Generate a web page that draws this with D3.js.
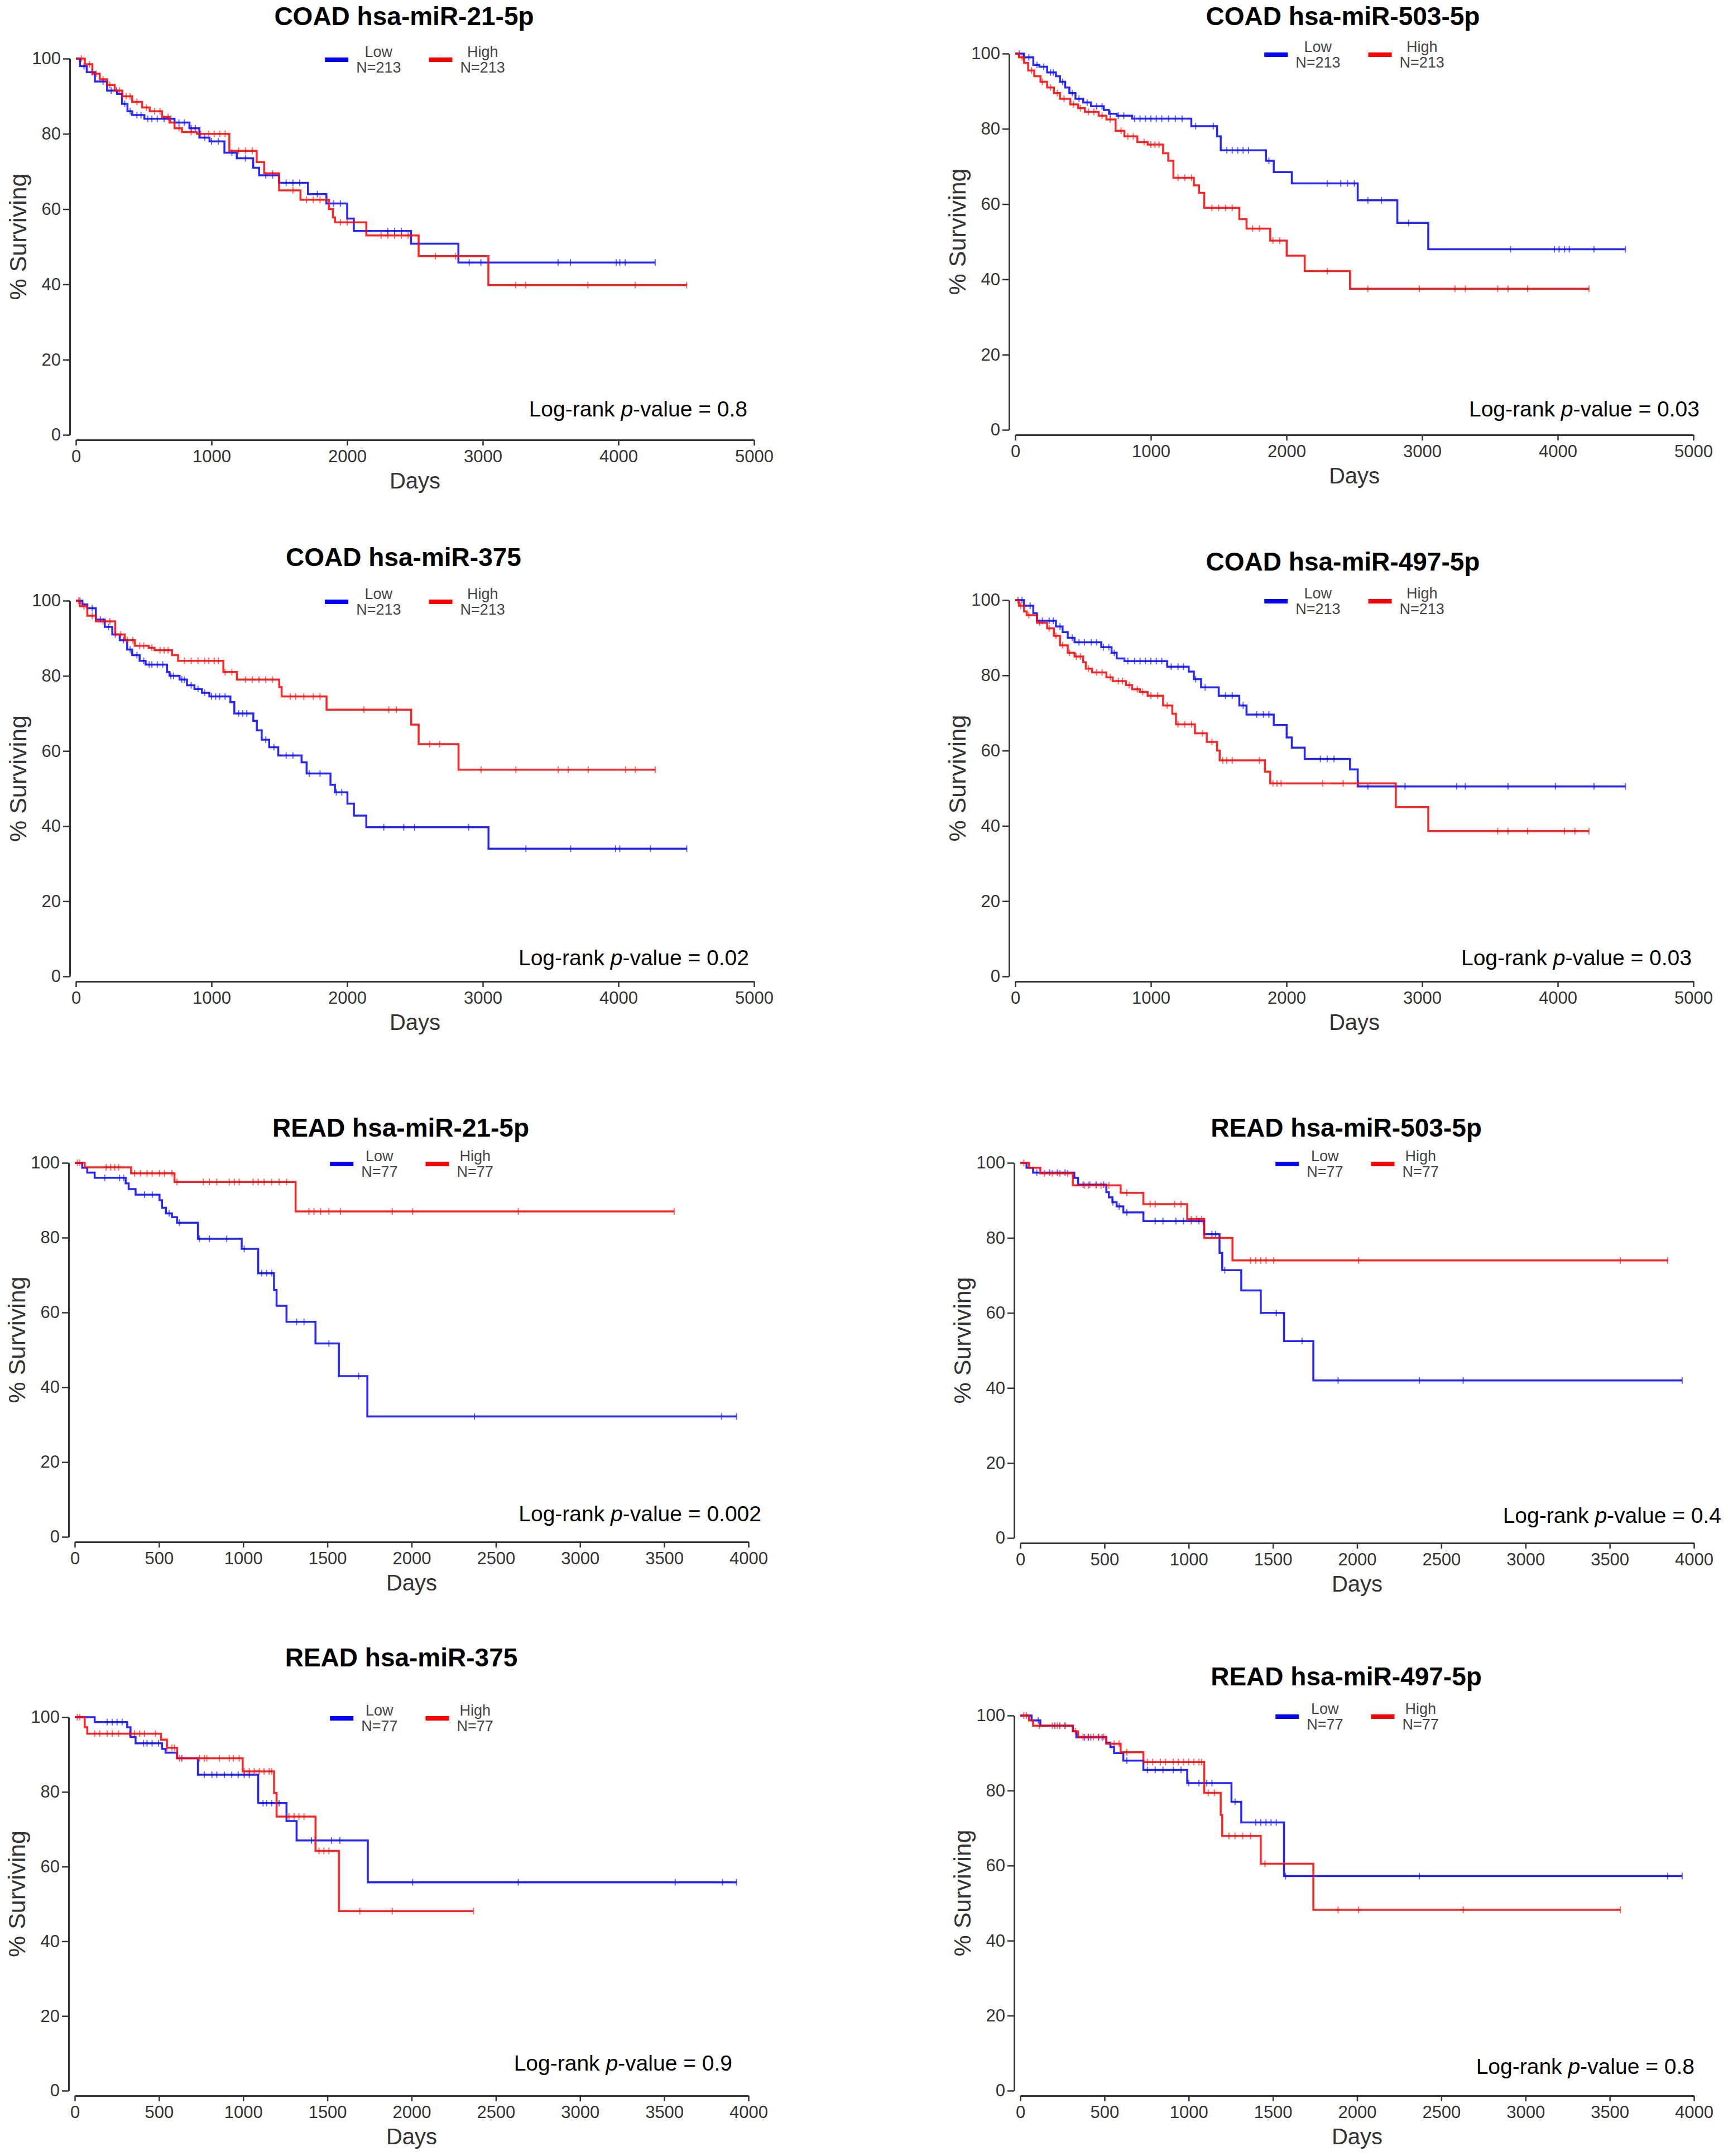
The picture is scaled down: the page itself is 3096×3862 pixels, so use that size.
<!DOCTYPE html>
<html>
<head>
<meta charset="utf-8">
<script src="https://cdn.jsdelivr.net/npm/d3@7"></script>
<style>
  body { margin: 0; background: #fff; }
  text { font-family: "Liberation Sans", Arial, sans-serif; }
</style>
</head>
<body>
<svg id="chart" width="3096" height="3862"></svg>
<script>
"use strict"

// ======================================================================
// data: [day, % surviving] at each step, censor days
// (last censor day is where the curve ends)
const groups = ["Low", "High"];
const coadN = 213;
const readN = 77;
const coadDayTicks = [0, 1000, 2000, 3000, 4000, 5000];
const readDayTicks = [0, 500, 1000, 1500, 2000, 2500, 3000, 3500, 4000];
const survTicks = [0, 20, 40, 60, 80, 100];

// COAD hsa-miR-21-5p
const coad21Low = [[0,100],[30,98],[80,96.4],[140,93.9],[230,91.5],[305,90.6],[340,88],[380,86],[415,85],[505,84],[727,83],[837,81.5],[910,79],[985,78],[1095,75],[1186,73.5],[1307,71],[1351,69],[1498,67],[1711,64],[1847,61.5],[2000,57.5],[2049,54.2],[2471,50.8],[2820,45.8]];
const coad21LowCens = [60,120,200,260,300,360,400,450,480,530,560,600,650,700,760,800,850,880,950,1000,1050,1150,1250,1400,1450,1550,1600,1650,1780,1900,1950,2300,2350,2400,2900,2986,3555,3646,3984,4010,4050,4271];
const coad21High = [[0,100],[66,98.5],[121,96],[176,94.5],[231,93],[286,91.5],[342,90],[415,88.5],[488,87],[544,86],[635,84.5],[690,83],[727,81.5],[782,80.5],[892,80],[1131,75.5],[1333,72.5],[1388,69.5],[1498,65],[1656,62.5],[1865,60],[1895,57.8],[1910,56.5],[2141,53],[2527,47.5],[3041,39.8]];
const coad21HighCens = [40,100,150,200,250,320,370,400,450,520,580,620,680,760,850,920,980,1020,1060,1100,1200,1250,1300,1450,1600,1700,1750,1800,1950,2000,2250,2300,2350,2400,2450,2650,2800,3243,3316,3775,4124,4503];

// COAD hsa-miR-503-5p
const coad503Low = [[0,100],[65,99],[133,97],[178,96.5],[235,95],[300,94],[330,92.5],[368,91],[399,89.5],[444,88],[501,87],[558,86],[653,85],[691,84],[748,83.5],[862,82.7],[1298,80.7],[1488,78],[1515,74.3],[1849,71.5],[1906,68.5],[2039,65.5],[2525,61],[2817,55],[3045,48]];
const coad503LowCens = [30,100,160,210,260,280,350,420,470,530,600,640,700,760,800,880,920,960,1000,1040,1080,1130,1180,1230,1330,1460,1560,1600,1640,1680,1720,1870,2300,2400,2450,2500,2600,2700,2900,3652,3975,4010,4050,4085,4267,4499];
const coad503High = [[0,100],[27,99],[65,97.5],[95,95.5],[140,94],[186,92.5],[235,91],[285,89.5],[330,88],[406,86.5],[463,85.5],[513,84.5],[615,83.5],[672,82.5],[740,79.5],[805,78],[900,76.5],[976,75.8],[1090,73.5],[1128,71.5],[1166,67],[1317,65],[1355,63],[1393,59],[1652,56],[1705,53.5],[1880,50.3],[2001,46.3],[2134,42.2],[2468,37.5]];
const coad503HighCens = [50,120,200,260,310,360,430,480,540,580,640,700,780,830,870,950,1000,1030,1060,1200,1250,1300,1450,1500,1550,1600,1750,1800,1900,1950,2300,2600,2980,3242,3318,3557,3633,3777,4230];

// COAD hsa-miR-375
const coad375Low = [[0,100],[48,99],[84,98],[147,95],[213,93],[268,91],[323,89.5],[378,87],[415,85.5],[470,84],[514,83],[672,81],[690,80],[764,79],[819,77.5],[874,76.5],[929,75.5],[984,74.5],[1139,73],[1168,70],[1308,68],[1334,65.5],[1370,63],[1425,61],[1492,58.8],[1664,57],[1701,54],[1877,51],[1910,49],[2002,46],[2050,42.8],[2141,39.7],[3042,34]];
const coad375LowCens = [30,120,180,240,290,350,400,450,500,540,560,600,640,700,720,780,800,850,900,950,1000,1030,1060,1100,1200,1230,1260,1400,1460,1550,1600,1720,1800,1920,1960,2270,2417,2498,2895,3318,3648,3979,4010,4236,4504];
const coad375High = [[0,100],[29,98.5],[84,96],[147,94.5],[290,91],[360,89.5],[433,88],[536,87.5],[580,86.8],[709,85.5],[753,84],[1087,81],[1187,79],[1499,77],[1517,74.5],[1848,71],[2472,67],[2527,61.8],[2821,55]];
const coad375HighCens = [20,60,120,200,250,330,380,420,470,500,560,620,650,680,800,850,900,950,980,1020,1050,1100,1150,1250,1300,1350,1400,1450,1580,1620,1680,1750,1800,2124,2307,2362,2608,2682,2987,3244,3556,3630,3777,4052,4125,4271];

// COAD hsa-miR-497-5p
const coad497Low = [[0,100],[65,98.5],[133,96.5],[160,94.5],[300,93],[349,91.5],[387,90],[437,88.8],[634,87.5],[710,86],[748,84.5],[805,83.8],[1120,82.3],[1279,81],[1317,79],[1370,76.8],[1500,74.6],[1652,72],[1705,69.6],[1906,66.8],[2001,63.5],[2039,60.8],[2134,57.8],[2468,55],[2525,50.5]];
const coad497LowCens = [20,50,110,200,250,280,330,420,470,510,560,600,650,690,730,830,880,920,960,1000,1040,1080,1150,1200,1240,1330,1400,1550,1600,1680,1780,1830,1870,2250,2300,2350,2600,2874,3254,3318,3633,3983,4267,4499];
const coad497High = [[0,100],[27,98.5],[65,97],[84,96],[160,94],[235,92.5],[285,90.5],[330,88],[387,86],[437,85],[501,83.5],[520,81.8],[566,80.8],[672,79.5],[718,78.5],[816,77.4],[862,76.3],[919,75.6],[976,74.6],[1090,72],[1158,69.8],[1185,67],[1325,64.6],[1412,62.3],[1488,60],[1507,57.4],[1841,54.4],[1880,51.3],[2806,45],[3045,38.6]];
const coad497HighCens = [40,100,180,250,300,350,400,450,480,540,600,640,700,760,790,840,900,940,1000,1050,1120,1200,1250,1300,1380,1450,1530,1560,1600,1800,1900,1930,1960,2266,2418,2532,3557,3633,3777,4050,4126,4230];

// READ hsa-miR-21-5p
const read21Low = [[0,100],[44,98.7],[74,97.4],[118,96],[302,94.5],[320,93],[361,91.5],[503,90],[518,88],[541,86.5],[577,85.5],[607,84],[731,79.7],[991,77],[1089,70.5],[1183,66],[1198,61.8],[1257,57.5],[1429,51.7],[1568,43],[1737,32.2]];
const read21LowCens = [178,266,290,414,460,560,620,740,799,902,1006,1110,1139,1170,1317,1361,1509,1686,2373,3840,3929];
const read21High = [[0,100],[59,98.8],[334,97.2],[592,94.9],[1311,87]];
const read21HighCens = [15,30,186,213,237,260,355,390,429,459,503,533,577,607,763,799,843,917,947,976,1059,1089,1124,1169,1213,1257,1390,1420,1459,1509,1577,1885,2006,2633,3559];

// READ hsa-miR-503-5p
const read503Low = [[0,100],[37,98.7],[76,97.4],[321,96],[343,94.2],[511,92.2],[526,90.8],[547,89.5],[572,88.4],[612,86.8],[731,84.5],[1092,81],[1183,76],[1199,71.4],[1312,66],[1428,60],[1566,52.5],[1740,42]];
const read503LowCens = [98,174,220,266,373,413,450,495,550,587,633,801,847,924,969,1015,1061,1086,1138,1159,1214,1520,1673,1887,2370,2630,3930];
const read503High = [[0,100],[52,98.7],[119,97.2],[312,94],[596,92],[731,89],[991,85],[1092,80],[1260,74]];
const read503HighCens = [21,144,190,235,281,382,404,450,480,526,633,771,801,917,954,1015,1046,1076,1367,1398,1428,1459,1505,2009,3563,3844];

// READ hsa-miR-375
const read375Low = [[0,100],[118,98.7],[311,97.3],[331,94.7],[361,93],[518,91.5],[539,90.5],[607,89],[731,84.6],[1089,77],[1257,72.2],[1317,67],[1740,55.8]];
const read375LowCens = [192,222,251,281,408,429,459,497,636,769,814,843,888,932,970,1006,1036,1118,1139,1169,1213,1405,1524,1574,2006,2633,3565,3846,3929];
const read375High = [[0,100],[59,97.3],[74,95.6],[512,94],[547,91.8],[607,89],[997,85.5],[1183,79.7],[1198,73.4],[1429,64.2],[1568,48.1]];
const read375HighCens = [15,30,118,148,192,222,260,325,355,385,414,479,547,577,592,621,740,769,784,858,917,941,976,1006,1036,1065,1095,1124,1154,1169,1272,1302,1331,1361,1450,1479,1509,1692,1885,2367];

// READ hsa-miR-497-5p
const read497Low = [[0,100],[67,98.7],[119,97.3],[312,95.8],[333,94.2],[511,92.8],[535,91.6],[557,90],[612,88],[731,85.5],[991,82],[1254,77],[1312,71.5],[1566,57.2]];
const read497LowCens = [107,205,235,266,382,404,419,465,486,633,755,801,847,908,954,1000,1061,1107,1138,1275,1398,1428,1459,1489,1520,1575,2370,3844,3930];
const read497High = [[0,100],[52,98.7],[76,97.3],[312,95.8],[343,94.3],[511,92.5],[596,90.2],[731,87.6],[1092,79.4],[1190,73.5],[1199,67.9],[1428,60.5],[1740,48.2]];
const read497HighCens = [21,37,113,190,220,266,327,373,404,434,465,495,557,587,633,755,786,832,862,908,939,969,1000,1031,1061,1076,1116,1153,1239,1275,1321,1367,1453,1887,2009,2630,3563];

const panelTitles = ["COAD hsa-miR-21-5p","COAD hsa-miR-503-5p","COAD hsa-miR-375","COAD hsa-miR-497-5p",
                     "READ hsa-miR-21-5p","READ hsa-miR-503-5p","READ hsa-miR-375","READ hsa-miR-497-5p"];
const pValues = ["0.8","0.03","0.02","0.03","0.002","0.4","0.9","0.8"];

// ======================================================================
// panels, built from the arrays above
const panels = [
  {low: coad21Low,  lowC: coad21LowCens,  high: coad21High,  highC: coad21HighCens,  n: coadN, xMax: 5000, xTicks: coadDayTicks},
  {low: coad503Low, lowC: coad503LowCens, high: coad503High, highC: coad503HighCens, n: coadN, xMax: 5000, xTicks: coadDayTicks},
  {low: coad375Low, lowC: coad375LowCens, high: coad375High, highC: coad375HighCens, n: coadN, xMax: 5000, xTicks: coadDayTicks},
  {low: coad497Low, lowC: coad497LowCens, high: coad497High, highC: coad497HighCens, n: coadN, xMax: 5000, xTicks: coadDayTicks},
  {low: read21Low,  lowC: read21LowCens,  high: read21High,  highC: read21HighCens,  n: readN, xMax: 4000, xTicks: readDayTicks},
  {low: read503Low, lowC: read503LowCens, high: read503High, highC: read503HighCens, n: readN, xMax: 4000, xTicks: readDayTicks},
  {low: read375Low, lowC: read375LowCens, high: read375High, highC: read375HighCens, n: readN, xMax: 4000, xTicks: readDayTicks},
  {low: read497Low, lowC: read497LowCens, high: read497High, highC: read497HighCens, n: readN, xMax: 4000, xTicks: readDayTicks}
];

// where each panel sits on the page (plot box, title baseline, p-value anchor)
const layout = [
  {x0: 136,  x1: 1351, yTop: 105,  yBot: 779,  tx: 724,  ty: 45,   px: 1339, py: 746},
  {x0: 1819, x1: 3034, yTop: 96,   yBot: 770,  tx: 2406, ty: 45,   px: 3045, py: 746},
  {x0: 136,  x1: 1351, yTop: 1076, yBot: 1749, tx: 723,  ty: 1014, px: 1342, py: 1729},
  {x0: 1819, x1: 3034, yTop: 1075, yBot: 1749, tx: 2406, ty: 1022, px: 3031, py: 1729},
  {x0: 134,  x1: 1341, yTop: 2083, yBot: 2753, tx: 718,  ty: 2036, px: 1364, py: 2725},
  {x0: 1828, x1: 3035, yTop: 2083, yBot: 2755, tx: 2412, ty: 2036, px: 3084, py: 2728},
  {x0: 134,  x1: 1341, yTop: 3076, yBot: 3745, tx: 719,  ty: 2985, px: 1312, py: 3709},
  {x0: 1828, x1: 3035, yTop: 3073, yBot: 3745, tx: 2412, ty: 3019, px: 3036, py: 3715}
];

const lowColor = "#0000ff";
const highColor = "#ff0000";
const axisColor = "#333";

const svg = d3.select("#chart");
svg.append("rect").attr("width", 3096).attr("height", 3862).attr("fill", "#fff");

// survival value of a step curve at day t
function survAt(steps, t) {
  let s = steps[0][1];
  for (const [tt, ss] of steps) {
    if (tt <= t) s = ss; else break;
  }
  return s;
}

function drawPanel(p, L, i) {
  const x = d3.scaleLinear().domain([0, p.xMax]).range([L.x0, L.x1]);
  const y = d3.scaleLinear().domain([0, 100]).range([L.yBot, L.yTop]);
  const g = svg.append("g");

  // title
  g.append("text")
    .attr("x", L.tx).attr("y", L.ty)
    .attr("text-anchor", "middle")
    .attr("font-size", 46).attr("font-weight", "bold")
    .attr("fill", "#000")
    .text(panelTitles[i]);

  // axes, pulled off the plot box a little like the original
  const xAxis = g.append("g")
    .attr("transform", `translate(0,${L.yBot + 9})`)
    .call(d3.axisBottom(x).tickValues(p.xTicks).tickFormat(d3.format("d"))
      .tickSize(10).tickSizeOuter(0).tickPadding(8));
  const yAxis = g.append("g")
    .attr("transform", `translate(${L.x0 - 11},0)`)
    .call(d3.axisLeft(y).tickValues(survTicks).tickFormat(d3.format("d"))
      .tickSize(12).tickSizeOuter(0).tickPadding(4));

  [xAxis, yAxis].forEach(a => {
    a.attr("font-size", 31).attr("font-family", "Liberation Sans, Arial, sans-serif");
    a.select(".domain").attr("stroke", axisColor).attr("stroke-width", 3);
    a.selectAll(".tick line").attr("stroke", axisColor).attr("stroke-width", 2.5);
    a.selectAll(".tick text").attr("fill", axisColor);
  });

  // axis titles
  g.append("text")
    .attr("x", (L.x0 + L.x1) / 2).attr("y", L.yBot + 96)
    .attr("text-anchor", "middle")
    .attr("font-size", 40).attr("fill", axisColor)
    .text("Days");

  const ly = (L.yTop + L.yBot) / 2 - 18;
  g.append("text")
    .attr("transform", `translate(${L.x0 - 104},${ly}) rotate(-90)`)
    .attr("text-anchor", "middle")
    .attr("dominant-baseline", "central")
    .attr("font-size", 43).attr("fill", axisColor)
    .text("% Surviving");

  // KM curves with censor marks
  const line = d3.line().x(d => x(d[0])).y(d => y(d[1])).curve(d3.curveStepAfter);

  function drawCurve(steps, cens, color) {
    const end = cens[cens.length - 1];
    const pts = steps.concat([[end, steps[steps.length - 1][1]]]);
    g.append("path")
      .datum(pts)
      .attr("d", line)
      .attr("fill", "none")
      .attr("stroke", color)
      .attr("stroke-width", 3.5)
      .attr("stroke-opacity", 0.85);

    g.selectAll(null)
      .data(cens)
      .enter().append("line")
      .attr("x1", d => x(d)).attr("x2", d => x(d))
      .attr("y1", d => y(survAt(steps, d)) - 6)
      .attr("y2", d => y(survAt(steps, d)) + 6)
      .attr("stroke", color)
      .attr("stroke-width", 2)
      .attr("stroke-opacity", 0.6);
  }

  drawCurve(p.low, p.lowC, lowColor);
  drawCurve(p.high, p.highC, highColor);

  // legend: swatch then two-line label, centred over the plot
  const lg = g.append("g");
  let cx = 0;
  [[groups[0], lowColor], [groups[1], highColor]].forEach(([lab, col]) => {
    lg.append("line")
      .attr("x1", cx).attr("x2", cx + 42)
      .attr("y1", 0).attr("y2", 0)
      .attr("stroke", col).attr("stroke-width", 8);
    const t1 = lg.append("text").attr("y", -14).attr("dy", "0.35em").attr("font-size", 27).attr("fill", "#444").text(lab);
    const t2 = lg.append("text").attr("y", 14).attr("dy", "0.35em").attr("font-size", 27).attr("fill", "#444").text("N=" + p.n);
    const w = Math.max(t1.node().getComputedTextLength(), t2.node().getComputedTextLength());
    const tc = cx + 42 + 14 + w / 2;
    t1.attr("x", tc).attr("text-anchor", "middle");
    t2.attr("x", tc).attr("text-anchor", "middle");
    cx = tc + w / 2 + 50;
  });
  const bb = lg.node().getBBox();
  lg.attr("transform", `translate(${(L.x0 + L.x1) / 2 - bb.x - bb.width / 2},${L.yTop + 2})`);

  // log-rank p-value
  const pt = g.append("text")
    .attr("x", L.px).attr("y", L.py)
    .attr("text-anchor", "end")
    .attr("font-size", 39).attr("fill", "#000");
  pt.append("tspan").text("Log-rank ");
  pt.append("tspan").attr("font-style", "italic").text("p");
  pt.append("tspan").text("-value = " + pValues[i]);
}

panels.forEach((p, i) => drawPanel(p, layout[i], i));
</script>
</body>
</html>
